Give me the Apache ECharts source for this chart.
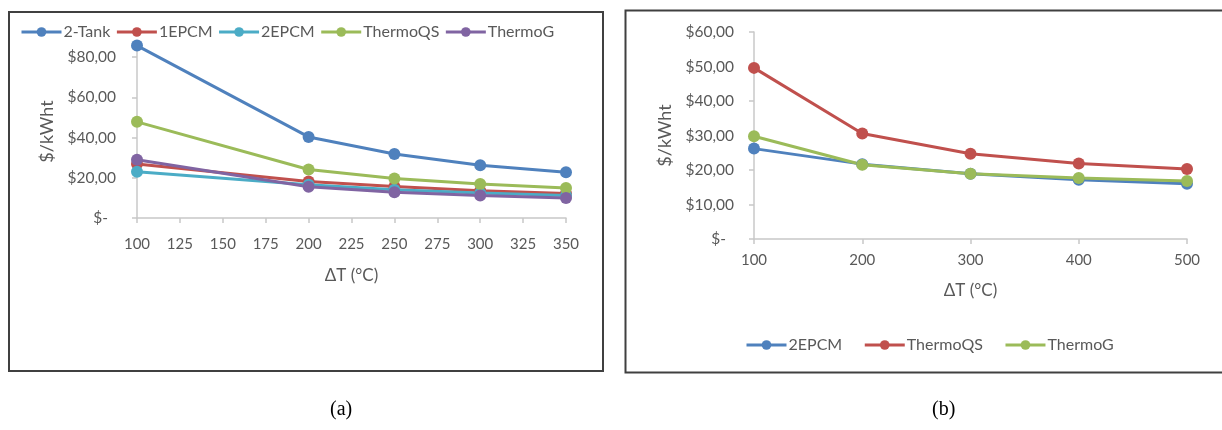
<!DOCTYPE html>
<html>
<head>
<meta charset="utf-8">
<script src="https://cdn.jsdelivr.net/npm/echarts@6/dist/echarts.min.js"></script>
<style>
html,body{margin:0;padding:0;background:#fff;}
#c{width:1222px;height:430px;}
</style>
</head>
<body>
<div id="c"></div>
<script>
// ---- Data: panel (a) ----
const xA = [100, 200, 250, 300, 350];
const namesA = ['2-Tank', '1EPCM', '2EPCM', 'ThermoQS', 'ThermoG'];
const tank2A   = [85.7, 40.3, 31.8, 26.2, 22.7];
const epcm1A   = [26.8, 18.2, 15.7, 13.6, 12.2];
const epcm2A   = [23.0, 16.5, 14.1, 12.4, 11.2];
const thermoQSA = [47.8, 24.1, 19.6, 16.9, 14.9];
const thermoGA = [29.0, 15.5, 12.8, 11.2, 10.0];
const yTicksA = [0, 20, 40, 60, 80];

// ---- Data: panel (b) ----
const xB = [100, 200, 300, 400, 500];
const namesB = ['2EPCM', 'ThermoQS', 'ThermoG'];
const epcm2B   = [26.2, 21.7, 18.9, 17.2, 16.0];
const thermoQSB = [49.6, 30.6, 24.7, 21.9, 20.3];
const thermoGB = [29.8, 21.5, 18.9, 17.7, 16.8];

const axisTitleX = 'ΔT (°C)';
const axisTitleY = '$/kWht';
const captions = ['(a)', '(b)'];

const C = {blue:'#4F81BD', red:'#C0504D', aqua:'#4BACC6', green:'#9BBB59', purple:'#8064A2'};
const FONT = 'Lato';
const TXT = '#595959';
const AX = '#C8C8C8';

function money(v){
  if (v === 0) return '$-  ';
  return '$' + v.toFixed(2).replace('.', ',');
}
function pairs(xs, ys){ return xs.map((x,i)=>[x, ys[i]]); }

function mkSeries(name, xs, ys, color, gi){
  return {
    name, type:'line', xAxisIndex:gi, yAxisIndex:gi,
    data: pairs(xs, ys), clip:false,
    symbol:'circle', symbolSize:12,
    lineStyle:{color, width:3}, itemStyle:{color},
    emphasis:{disabled:true}
  };
}

const legendCommon = {
  itemWidth:40, itemHeight:12, selectedMode:false,
  lineStyle:{width:3},
  textStyle:{color:TXT, fontSize:16, fontFamily:FONT, padding:[0,0,0,-3]}
};

const chart = echarts.init(document.getElementById('c'), null, {renderer:'canvas'});
const option = {
  animation:false,
  backgroundColor:'#fff',
  textStyle:{fontFamily:FONT},
  graphic:[
    {type:'rect', shape:{x:9, y:12, width:594, height:359}, style:{fill:'none', stroke:'#404040', lineWidth:2}, z:-1},
    {type:'rect', shape:{x:625.5, y:10.5, width:600, height:362}, style:{fill:'none', stroke:'#404040', lineWidth:2}, z:-1},
    {type:'text', left:330, top:400, style:{text:captions[0], font:'20px "Liberation Serif"', fill:'#000'}},
    {type:'text', left:932, top:400, style:{text:captions[1], font:'20px "Liberation Serif"', fill:'#000'}}
  ],
  legend:[
    Object.assign({data:namesA.map(n=>({name:n})), left:15, top:19, itemGap:5}, legendCommon),
    Object.assign({data:namesB.map(n=>({name:n+' '})), left:740, top:332, itemGap:17}, legendCommon)
  ],
  grid:[
    {left:137, right:1222-566, top:45, bottom:430-218},
    {left:754, right:1222-1187, top:32, bottom:430-239}
  ],
  xAxis:[
    {type:'value', gridIndex:0, min:100, max:350, interval:25,
     name:axisTitleX, nameLocation:'middle', nameGap:49,
     nameTextStyle:{color:TXT, fontSize:17, fontFamily:FONT},
     axisLine:{lineStyle:{color:AX, width:1.5}}, axisTick:{show:true, length:5, lineStyle:{color:AX, width:1.5}},
     axisLabel:{color:TXT, fontSize:15, margin:19, fontFamily:FONT},
     splitLine:{show:false}},
    {type:'value', gridIndex:1, min:100, max:500, interval:100,
     name:axisTitleX, nameLocation:'middle', nameGap:43,
     nameTextStyle:{color:TXT, fontSize:17, fontFamily:FONT},
     axisLine:{lineStyle:{color:AX, width:1.5}}, axisTick:{show:true, length:5, lineStyle:{color:AX, width:1.5}},
     axisLabel:{color:TXT, fontSize:15, margin:14, fontFamily:FONT},
     splitLine:{show:false}}
  ],
  yAxis:[
    {type:'value', gridIndex:0, min:0, max:86,
     name:axisTitleY, nameLocation:'middle', nameGap:81, nameRotate:90,
     nameTextStyle:{color:TXT, fontSize:18, fontFamily:FONT},
     axisLine:{show:true, lineStyle:{color:AX, width:1.5}},
     axisTick:{show:true, length:5, customValues:yTicksA, lineStyle:{color:AX, width:1.5}},
     axisLabel:{color:TXT, fontSize:15.5, margin:21, fontFamily:FONT, customValues:yTicksA, formatter:money},
     splitLine:{show:false}},
    {type:'value', gridIndex:1, min:0, max:60, interval:10,
     name:axisTitleY, nameLocation:'middle', nameGap:80, nameRotate:90,
     nameTextStyle:{color:TXT, fontSize:18, fontFamily:FONT},
     axisLine:{show:true, lineStyle:{color:AX, width:1.5}},
     axisTick:{show:true, length:5, lineStyle:{color:AX, width:1.5}},
     axisLabel:{color:TXT, fontSize:15.5, margin:20, fontFamily:FONT, formatter:money},
     splitLine:{show:false}}
  ],
  series:[
    mkSeries(namesA[0], xA, tank2A, C.blue, 0),
    mkSeries(namesA[1], xA, epcm1A, C.red, 0),
    mkSeries(namesA[2], xA, epcm2A, C.aqua, 0),
    mkSeries(namesA[3], xA, thermoQSA, C.green, 0),
    mkSeries(namesA[4], xA, thermoGA, C.purple, 0),
    mkSeries(namesB[0] + ' ', xB, epcm2B, C.blue, 1),
    mkSeries(namesB[1] + ' ', xB, thermoQSB, C.red, 1),
    mkSeries(namesB[2] + ' ', xB, thermoGB, C.green, 1)
  ]
};
chart.setOption(option);
</script>
</body>
</html>
